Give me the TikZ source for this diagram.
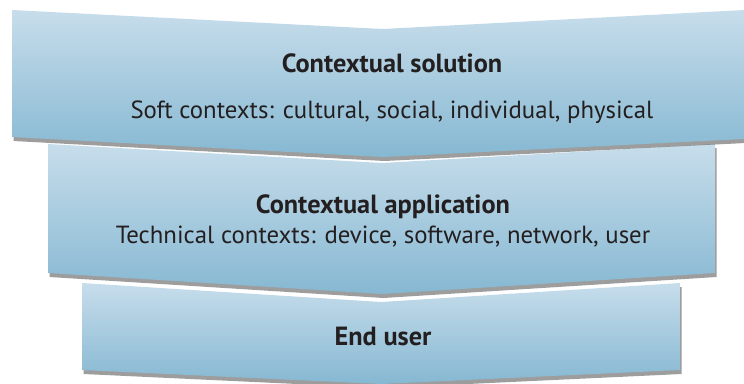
\documentclass[tikz,border=0pt]{standalone}
\usepackage{fontspec}
\setmainfont{PT Sans}
\usetikzlibrary{shadows}
\definecolor{topc}{RGB}{199,221,235}
\definecolor{botc}{RGB}{134,184,210}
\definecolor{txt}{RGB}{35,31,32}
\tikzset{
  band/.style={top color=topc, bottom color=botc, draw=none,
    drop shadow={shadow xshift=1.5pt, shadow yshift=-4pt, opacity=0.55, fill=black!70}},
  title/.style={font=\fontsize{26.3}{30}\selectfont\bfseries, text=txt, inner sep=0pt, anchor=base},
  sub/.style={font=\fontsize{24.8}{29}\selectfont, text=txt, inner sep=0pt, anchor=base}
}
\begin{document}
\begin{tikzpicture}[x=1pt,y=-1pt]
\useasboundingbox (0,0) rectangle (744,383);
% bottom band
\path[band] (82,283) -- (381,302) -- (680,283) -- (680,370) -- (381,384) -- (82,370) -- cycle;
% middle band
\path[band] (48,144) -- (382,163) -- (715,144) -- (715,273) -- (382,294) -- (48,273) -- cycle;
% top band
\path[band] (12,10) -- (383,29) -- (744,10) -- (744,139) -- (383,157) -- (12,137) -- cycle;
\node[title] (t1) at (392,72) {Contextual solution};
\node[sub] (s1) at (392,118) {Soft contexts: cultural, social, individual, physical};
\node[title] (t2) at (383,213) {Contextual application};
\node[sub] (s2) at (383,243) {Technical contexts: device, software, network, user};
\node[title] (t3) at (383,345) {End user};
\end{tikzpicture}
\end{document}
